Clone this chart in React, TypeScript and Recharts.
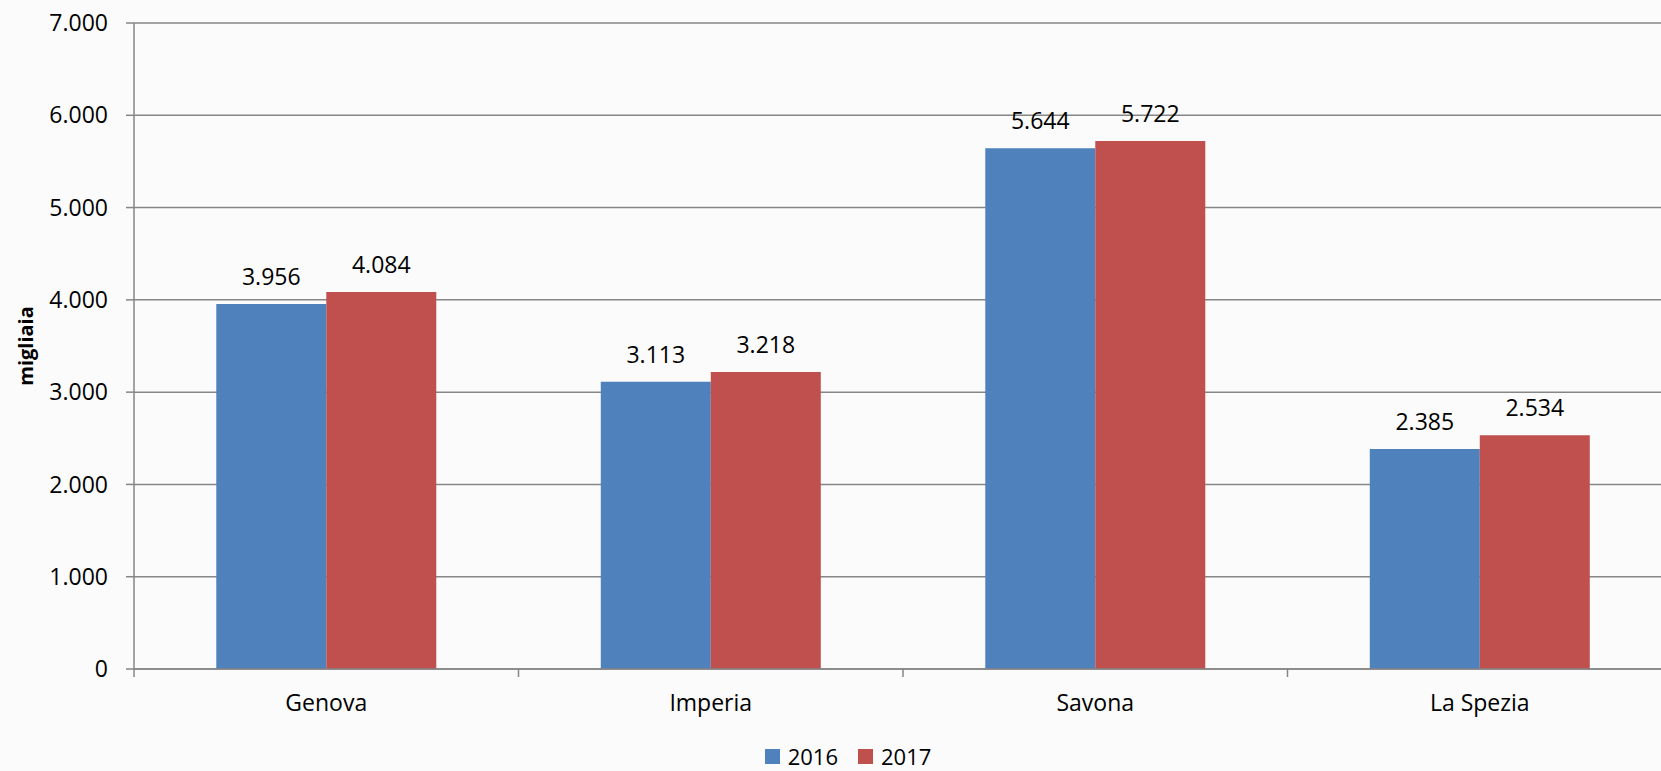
import React from 'react';
import { BarChart, Bar, XAxis, YAxis, CartesianGrid, Legend, LabelList } from 'recharts';

const categories = ['Genova', 'Imperia', 'Savona', 'La Spezia'];
const values2016 = [3956, 3113, 5644, 2385];
const values2017 = [4084, 3218, 5722, 2534];
const yTicks = [0, 1000, 2000, 3000, 4000, 5000, 6000, 7000];
const seriesNames = ['2016', '2017'];
const yTitle = 'migliaia';

const data = categories.map((c, i) => ({ name: c, a: values2016[i], b: values2017[i] }));

const CHART_W = 1672;
const CHART_H = 771;
const Y_W = 134;
const BAND = (CHART_W - Y_W) / categories.length;
const FONT = '"Open Sans", sans-serif';
const AXIS = '#868686';
const BLUE = '#4F81BD';
const RED = '#C0504D';

const fmt = (v: number) => String(Math.round(v)).replace(/\B(?=(\d{3})+(?!\d))/g, '.');

const CatTick = (props: any) => {
  const { x, y, payload, index } = props;
  return (
    <g>
      <line x1={x - BAND / 2} y1={y} x2={x - BAND / 2} y2={y + 8} stroke={AXIS} strokeWidth={1.5} />
      {index === categories.length - 1 && (
        <line x1={x + BAND / 2} y1={y} x2={x + BAND / 2} y2={y + 8} stroke={AXIS} strokeWidth={1.5} />
      )}
      <text x={x} y={y + 42} textAnchor="middle" fill="#000" fontSize={23} fontFamily={FONT}>
        {payload.value}
      </text>
    </g>
  );
};

const YTitle = (props: any) => {
  const { viewBox } = props;
  const cx = 25.5;
  const cy = viewBox.y + viewBox.height / 2;
  return (
    <text
      x={cx}
      y={cy}
      transform={`rotate(-90 ${cx} ${cy})`}
      textAnchor="middle"
      dominantBaseline="central"
      fontFamily={FONT}
      fontWeight="bold"
      fontSize={20}
      fill="#000"
    >
      {yTitle}
    </text>
  );
};

const LegendContent = () => (
  <div style={{ display: 'flex', justifyContent: 'center', alignItems: 'center', fontFamily: FONT, fontSize: 22, color: '#000', height: 26 }}>
    {[BLUE, RED].map((c, i) => (
      <div key={i} style={{ display: 'flex', alignItems: 'center', marginRight: i === 0 ? 20 : 0 }}>
        <span style={{ display: 'inline-block', width: 15, height: 15, background: c, marginRight: 8 }} />
        <span style={{ lineHeight: '26px' }}>{seriesNames[i]}</span>
      </div>
    ))}
  </div>
);

export default function App() {
  return (
    <div style={{ position: 'absolute', left: 0, top: 0, width: 1661, height: 771, overflow: 'hidden', background: '#fbfbfb' }}>
      <BarChart
        width={CHART_W}
        height={CHART_H}
        data={data}
        margin={{ top: 23, right: 0, bottom: 0, left: 0 }}
        barCategoryGap="21.4%"
        barGap={0}
      >
        <CartesianGrid vertical={false} stroke={AXIS} strokeWidth={1.5} />
        <XAxis
          dataKey="name"
          height={102}
          stroke={AXIS}
          strokeWidth={1.5}
          tickLine={false}
          tickSize={0}
          tickMargin={0}
          tick={<CatTick />}
          interval={0}
        />
        <YAxis
          width={Y_W}
          domain={[0, 7000]}
          ticks={yTicks}
          tickFormatter={fmt}
          stroke={AXIS}
          strokeWidth={1.5}
          tickSize={8}
          tickMargin={18}
          tick={{ fill: '#000', fontSize: 23, fontFamily: FONT }}
          label={<YTitle />}
          interval={0}
        />
        <Legend
          layout="vertical"
          align="center"
          verticalAlign="middle"
          content={<LegendContent />}
          wrapperStyle={{ top: 743, left: 12, width: CHART_W, height: 26 }}
        />
        <Bar dataKey="a" name={seriesNames[0]} fill={BLUE} isAnimationActive={false}>
          <LabelList dataKey="a" position="top" offset={19} formatter={(v: any) => fmt(Number(v))} fill="#000" fontSize={23} fontFamily={FONT} />
        </Bar>
        <Bar dataKey="b" name={seriesNames[1]} fill={RED} isAnimationActive={false}>
          <LabelList dataKey="b" position="top" offset={19} formatter={(v: any) => fmt(Number(v))} fill="#000" fontSize={23} fontFamily={FONT} />
        </Bar>
      </BarChart>
    </div>
  );
}
